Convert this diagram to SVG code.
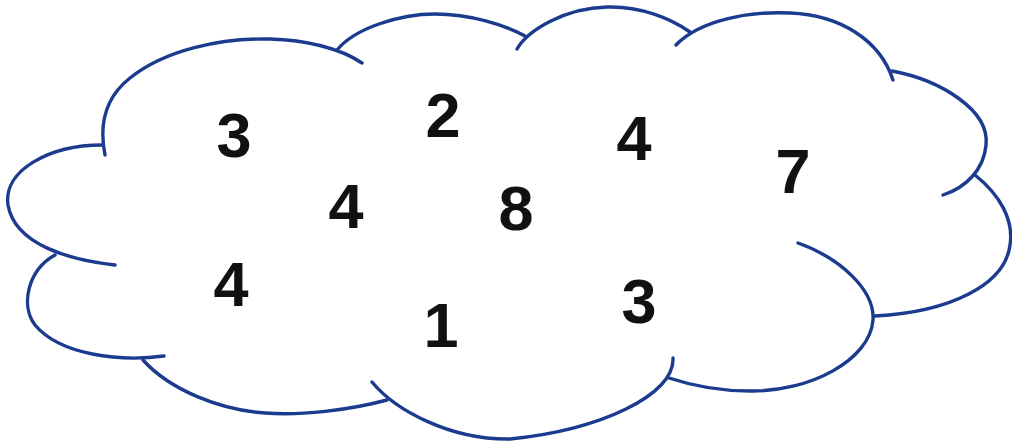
<svg xmlns="http://www.w3.org/2000/svg" width="1012" height="442" viewBox="0 0 1012 442">
<style>
.lobe{fill:none;stroke:#1b3b8e;stroke-width:3.4;stroke-linecap:round}
.num{font-family:"Liberation Sans Narrow","Liberation Sans",Arial,sans-serif;font-weight:bold;font-size:63px;fill:#111;text-anchor:middle}
</style>
<rect width="1012" height="442" fill="#fff"/>
<g id="cloud">
<path class="lobe" d="M105,155 C100,130 102,100 130,78 C165,50 220,38 270,39 C305,40 340,48 362,63"/>
<path class="lobe" d="M337,50 C355,28 400,14 435,14 C470,14 505,25 525,36"/>
<path class="lobe" d="M517,49 C528,30 565,8 607,7 C640,6 670,18 690,32"/>
<path class="lobe" d="M676,45 C700,20 750,11 790,13 C840,15 880,40 893,80"/>
<path class="lobe" d="M892,71 C940,80 990,110 986,145 C984,170 965,188 943,195"/>
<path class="lobe" d="M975,175 C1000,195 1014,220 1010,245 C1005,285 950,312 875,316"/>
<path class="lobe" d="M798,243 C840,258 875,290 873,320 C870,360 810,392 750,391 C720,391 690,385 669,378"/>
<path class="lobe" d="M673,358 C675,395 600,430 510,439 C450,440 395,410 372,382"/>
<path class="lobe" d="M387,400 C350,410 300,416 265,413 C220,410 170,390 143,360"/>
<path class="lobe" d="M164,356 C120,362 60,355 35,325 C20,305 28,270 55,255"/>
<path class="lobe" d="M115,265 C70,260 15,245 8,205 C3,170 50,145 102,145"/>
</g>
<g id="numbers">
<text class="num" x="234" y="157">3</text>
<text class="num" x="443" y="137">2</text>
<text class="num" x="346" y="228">4</text>
<text class="num" x="516" y="230">8</text>
<text class="num" x="634" y="160">4</text>
<text class="num" x="793" y="193">7</text>
<text class="num" x="231" y="306">4</text>
<text class="num" x="441" y="347">1</text>
<text class="num" x="639" y="323">3</text>
</g>
</svg>
